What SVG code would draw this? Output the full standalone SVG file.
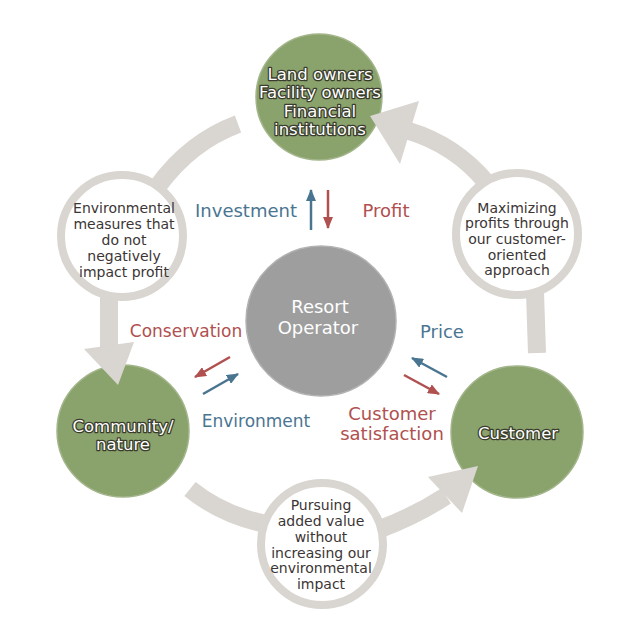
<svg xmlns="http://www.w3.org/2000/svg" width="640" height="644" viewBox="0 0 640 644">
<defs>
<style>
.band{fill:none;stroke:#d9d5d0;stroke-width:18;stroke-linecap:butt}
.head{fill:#d9d5d0}
.ring{fill:#fff;stroke:#d9d5d0;stroke-width:8}
.green{fill:#8aa26c;stroke:#a3b58a;stroke-width:1.5}
.gray{fill:#9e9e9e;stroke:#b3b3b3;stroke-width:1.5}
.gt{font-family:"DejaVu Sans",Verdana,sans-serif;font-size:16.5px;fill:#fff;stroke:#3a3d2c;stroke-width:2.6px;paint-order:stroke;stroke-linejoin:round;text-anchor:middle}
.ct{font-family:"DejaVu Sans",Verdana,sans-serif;font-size:18px;fill:#fff;text-anchor:middle}
.wt{font-family:"DejaVu Sans",Verdana,sans-serif;font-size:14px;fill:#3b3535;text-anchor:middle}
.lb{font-family:"DejaVu Sans",Verdana,sans-serif;font-size:18px;text-anchor:middle}
.blue{fill:#4a7591}
.red{fill:#b0504f}
.ab{stroke:#4a7591;stroke-width:2.5;fill:none}
.ar{stroke:#b0504f;stroke-width:2.5;fill:none}
</style>
<marker id="mb" viewBox="0 0 12 10" refX="11" refY="5" markerWidth="12" markerHeight="10" markerUnits="userSpaceOnUse" orient="auto"><path d="M0,0 L12,5 L0,10 z" fill="#4a7591"/></marker>
<marker id="mr" viewBox="0 0 12 10" refX="11" refY="5" markerWidth="12" markerHeight="10" markerUnits="userSpaceOnUse" orient="auto"><path d="M0,0 L12,5 L0,10 z" fill="#b0504f"/></marker>
</defs>
<rect width="640" height="644" fill="#fff"/>

<g id="node-owners">
<circle class="green" cx="319" cy="97" r="63"/>
<text class="gt" x="320" y="80">Land owners</text>
<text class="gt" x="320" y="98">Facility owners</text>
<text class="gt" x="320" y="117">Financial</text>
<text class="gt" x="320" y="135">institutions</text>
</g>

<g id="node-operator">
<circle class="gray" cx="321" cy="321" r="75"/>
<text class="ct" x="320" y="313">Resort</text>
<text class="ct" x="318" y="334">Operator</text>
</g>

<g id="node-community">
<circle class="green" cx="123" cy="431" r="66"/>
<text class="gt" x="123" y="432">Community/</text>
<text class="gt" x="123" y="450">nature</text>
</g>

<g id="node-customer">
<circle class="green" cx="517" cy="432" r="66"/>
<text class="gt" x="518" y="439">Customer</text>
</g>

<g id="node-env-measures">
<circle class="ring" cx="122" cy="236" r="61"/>
<text class="wt" x="124" y="213">Environmental</text>
<text class="wt" x="124" y="229">measures that</text>
<text class="wt" x="124" y="245">do not</text>
<text class="wt" x="124" y="261">negatively</text>
<text class="wt" x="124" y="277">impact profit</text>
</g>

<g id="node-max-profits">
<circle class="ring" cx="517" cy="234" r="61"/>
<text class="wt" x="517" y="213">Maximizing</text>
<text class="wt" x="517" y="228">profits through</text>
<text class="wt" x="517" y="244">our customer-</text>
<text class="wt" x="517" y="260">oriented</text>
<text class="wt" x="517" y="275">approach</text>
</g>

<g id="node-added-value">
<circle class="ring" cx="322" cy="544" r="61"/>
<text class="wt" x="321" y="510">Pursuing</text>
<text class="wt" x="321" y="526">added value</text>
<text class="wt" x="321" y="542">without</text>
<text class="wt" x="321" y="558">increasing our</text>
<text class="wt" x="321" y="573">environmental</text>
<text class="wt" x="321" y="589">impact</text>
</g>

<g id="connectors">
<path class="band" d="M238 124 Q190 142 158 186"/>
<path class="band" d="M109 296 L109 349"/>
<polygon class="head" points="84,349 134,342 118,385"/>
<path class="band" d="M190 489 Q222 515 266 524"/>
<path class="band" d="M380 529 Q415 516 446 496"/>
<polygon class="head" points="428,477 478,466 462,513"/>
<path class="band" d="M537 353 L535 292"/>
<path class="band" d="M486 182 Q455 145 409 131"/>
<polygon class="head" points="419,101 370,116 400,164"/>

<line class="ab" x1="311" y1="230" x2="311" y2="190" marker-end="url(#mb)"/>
<line class="ar" x1="328" y1="190" x2="328" y2="228" marker-end="url(#mr)"/>
<line class="ar" x1="230" y1="357" x2="195" y2="377" marker-end="url(#mr)"/>
<line class="ab" x1="203" y1="394" x2="238" y2="374" marker-end="url(#mb)"/>
<line class="ab" x1="447" y1="377" x2="412" y2="358" marker-end="url(#mb)"/>
<line class="ar" x1="404" y1="375" x2="439" y2="394" marker-end="url(#mr)"/>
</g>

<g id="labels">
<text class="lb blue" x="246" y="217">Investment</text>
<text class="lb red" x="386" y="217">Profit</text>
<text class="lb red" x="186" y="337" style="font-size:17px">Conservation</text>
<text class="lb blue" x="442" y="338">Price</text>
<text class="lb blue" x="256" y="427" style="font-size:17px">Environment</text>
<text class="lb red" x="392" y="420">Customer</text>
<text class="lb red" x="392" y="440">satisfaction</text>
</g>
</svg>
